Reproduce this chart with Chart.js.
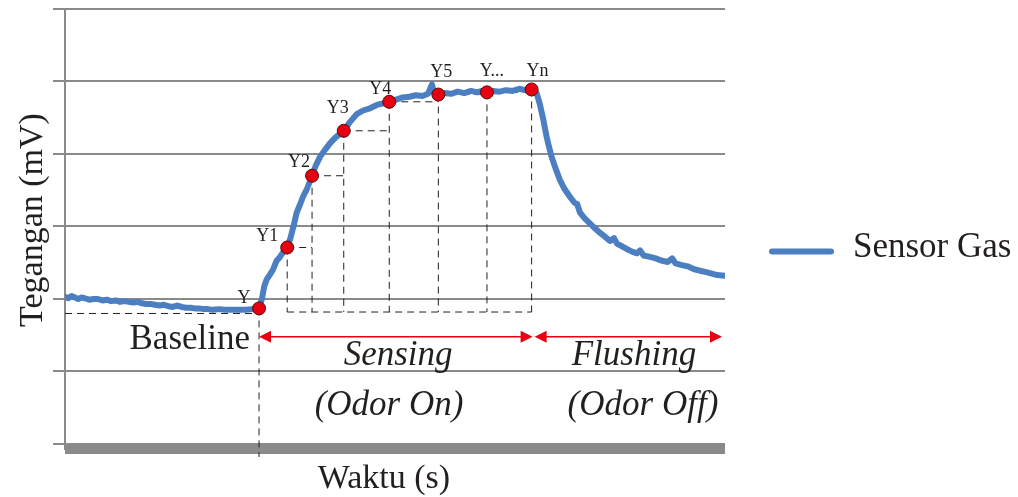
<!DOCTYPE html>
<html>
<head>
<meta charset="utf-8">
<title>Sensor Gas</title>
<script src="https://cdn.jsdelivr.net/npm/chart.js@4.4.1/dist/chart.umd.min.js"></script>
<style>
  html, body { margin: 0; padding: 0; background: #fff; }
  #wrap { position: relative; width: 1018px; height: 497px; }
</style>
</head>
<body>
<div id="wrap"><canvas id="chart"></canvas></div>
<script>
// Data - sensor response, time (s) vs voltage (mV, relative units)
const timeS = [
  0, 1.5, 3, 4.5, 6, 7.5, 9, 11, 13, 15, 17, 19, 21, 23, 25, 27, 29, 31, 33, 35,
  37, 39, 41, 43, 45, 47, 49, 51, 53, 55, 57, 59, 61, 63, 65, 67, 70, 73, 76, 79,
  82, 85, 88.2,
  89.5, 90.6, 91.7, 93.0, 94.5, 96.2, 97.5, 99.0, 101.0, 102.5, 104.0, 105.3, 106.8,
  108.3, 110.0, 112.3, 114.0, 115.9, 118.0, 120.5, 123.0, 126.7, 129.5, 132.6, 135.5,
  138.6, 142.0, 145.0, 147.4, 150.5, 153.5, 156.5, 159.5, 162.5, 165.0, 166.8, 167.8,
  169.7, 172.5, 175.5, 178.5, 181.5, 184.5, 187.5, 189.5, 191.8, 194.5, 197.5, 200.5,
  203.5, 206.5, 209.0, 212.1,
  214.4, 215.9, 217.5, 218.9, 220.0, 221.2, 223.0, 225.0, 227.0, 229.5, 231.5, 232.8,
  234.1, 236.0, 238.0, 240.0, 242.5, 245.0, 247.7, 249.5, 251.0, 253.0, 255.3, 258.0,
  260.0, 261.4, 263.0, 265.9, 268.5, 271.0, 274.0, 276.0, 277.5, 280.0, 283.0, 286.0,
  288.6, 291.5, 294.0, 296.5, 300.0
];
const sensorMv = [
  2.03, 2.01, 2.04, 2.02, 2.00, 2.02, 2.01, 1.99, 2.00, 2.00, 1.98, 1.99, 1.97, 1.98, 1.96, 1.97, 1.96, 1.95, 1.96, 1.94,
  1.93, 1.93, 1.92, 1.91, 1.92, 1.90, 1.89, 1.91, 1.89, 1.88, 1.88, 1.87, 1.87, 1.86, 1.86, 1.85, 1.86, 1.85, 1.85, 1.85,
  1.85, 1.86, 1.87,
  2.00, 2.18, 2.27, 2.33, 2.40, 2.53, 2.57, 2.64, 2.71, 2.84, 3.02, 3.19, 3.30,
  3.42, 3.52, 3.70, 3.84, 3.96, 4.05, 4.15, 4.23, 4.32, 4.44, 4.55, 4.60,
  4.63, 4.68, 4.70, 4.72, 4.75, 4.78, 4.79, 4.81, 4.80, 4.83, 4.96, 4.84,
  4.82, 4.84, 4.83, 4.86, 4.84, 4.87, 4.85, 4.87, 4.85, 4.87, 4.86, 4.88,
  4.87, 4.90, 4.88, 4.89,
  4.84, 4.68, 4.46, 4.24, 4.10, 3.96, 3.80, 3.64, 3.52, 3.41, 3.33, 3.31,
  3.19, 3.12, 3.06, 3.00, 2.93, 2.87, 2.80, 2.84, 2.76, 2.73, 2.69, 2.65,
  2.63, 2.67, 2.60, 2.58, 2.56, 2.53, 2.51, 2.56, 2.49, 2.47, 2.45, 2.41,
  2.39, 2.37, 2.35, 2.33, 2.32
];

// Sampled points Y ... Yn
const pointLabels = ['Y', 'Y1', 'Y2', 'Y3', 'Y4', 'Y5', 'Y...', 'Yn'];
const pointTime = [88.2, 101.0, 112.3, 126.7, 147.4, 169.7, 191.8, 212.1];
const pointMv = [1.87, 2.71, 3.70, 4.32, 4.72, 4.82, 4.85, 4.89];

// Gridline values (no tick labels shown)
const yTicks = [0, 1, 2, 3, 4, 5, 6];

// Guide levels (mV)
const floorMv = 1.82;
const baselineMv = 1.80;
const arrowMv = 1.48;
const dropMv = -0.18;

// Label offset from each point, px [dx, dy to baseline]
const labelOffsets = [[-15, -5], [-20, -7], [-13, -9], [-6, -18], [-9, -8], [3, -18], [5, -16], [6, -13]];

// Text notes placed on the time / voltage scales
const notes = [
  { text: 'Baseline', t: 84.1, v: 1.31, align: 'right', italic: false },
  { text: 'Sensing', t: 151.4, v: 1.09, align: 'center', italic: true },
  { text: 'Flushing', t: 258.6, v: 1.09, align: 'center', italic: true },
  { text: '(Odor On)', t: 147.3, v: 0.40, align: 'center', italic: true },
  { text: '(Odor Off)', t: 262.7, v: 0.40, align: 'center', italic: true }
];

const ink = '#231f20';
const red = '#e60012';
const grey = '#8a8a8a';
const blue = '#4b7fc2';
const serif = "'Liberation Serif', 'Times New Roman', serif";

function drawArrow(ctx, x1, x2, y) {
  const len = 12, half = 6;
  ctx.beginPath();
  ctx.moveTo(x1 + len - 1, y);
  ctx.lineTo(x2 - len + 1, y);
  ctx.stroke();
  ctx.beginPath();
  ctx.moveTo(x1, y);
  ctx.lineTo(x1 + len, y - half);
  ctx.lineTo(x1 + len, y + half);
  ctx.closePath();
  ctx.moveTo(x2, y);
  ctx.lineTo(x2 - len, y - half);
  ctx.lineTo(x2 - len, y + half);
  ctx.closePath();
  ctx.fill();
}

const guides = {
  id: 'guides',
  beforeDatasetsDraw(chart) {
    const { ctx, chartArea, scales: { x, y } } = chart;
    const px = pointTime.map(t => x.getPixelForValue(t));
    const py = pointMv.map(v => y.getPixelForValue(v));
    const floor = y.getPixelForValue(floorMv);
    const base = y.getPixelForValue(baselineMv);
    const last = px.length - 1;

    ctx.save();
    // thick time axis bar
    ctx.fillStyle = grey;
    ctx.fillRect(x.left, Math.round(chartArea.bottom) - 4, x.right - x.left, 9);

    ctx.strokeStyle = ink;
    ctx.lineWidth = 1;
    ctx.setLineDash([7, 5]);
    ctx.beginPath();
    ctx.moveTo(x.left, base);
    ctx.lineTo(px[0], base);
    ctx.moveTo(px[0], py[0]);
    ctx.lineTo(px[0], y.getPixelForValue(dropMv));
    for (let i = 1; i <= last; i++) {
      ctx.moveTo(px[i], py[i]);
      ctx.lineTo(px[i], floor);
      if (i < last) {
        ctx.moveTo(px[i], py[i]);
        ctx.lineTo(px[i + 1], py[i]);
      }
    }
    ctx.moveTo(px[1], floor);
    ctx.lineTo(px[last], floor);
    ctx.stroke();
    ctx.restore();
  },
  afterDraw(chart) {
    const { ctx, scales: { x, y } } = chart;
    const px = pointTime.map(t => x.getPixelForValue(t));
    const py = pointMv.map(v => y.getPixelForValue(v));
    const last = px.length - 1;

    ctx.save();
    ctx.fillStyle = ink;

    // point labels
    ctx.font = '18px ' + serif;
    ctx.textAlign = 'center';
    ctx.textBaseline = 'alphabetic';
    pointLabels.forEach((lab, i) => {
      ctx.fillText(lab, px[i] + labelOffsets[i][0], py[i] + labelOffsets[i][1]);
    });

    // phase arrows
    const ay = y.getPixelForValue(arrowMv);
    ctx.strokeStyle = red;
    ctx.fillStyle = red;
    ctx.lineWidth = 1.5;
    drawArrow(ctx, px[0], px[last] + 1, ay);
    drawArrow(ctx, px[last] + 3, x.right - 3, ay);

    // notes
    ctx.fillStyle = ink;
    notes.forEach(n => {
      ctx.font = (n.italic ? 'italic ' : '') + '35px ' + serif;
      ctx.textAlign = n.align;
      ctx.fillText(n.text, x.getPixelForValue(n.t), y.getPixelForValue(n.v));
    });

    // axis titles
    ctx.font = '34px ' + serif;
    ctx.textAlign = 'center';
    ctx.fillText('Waktu (s)', 384, 488);
    ctx.save();
    ctx.translate(42, 220);
    ctx.rotate(-Math.PI / 2);
    ctx.fillText('Tegangan (mV)', 0, 0);
    ctx.restore();

    // legend
    const ds = chart.data.datasets[1];
    ctx.strokeStyle = ds.borderColor;
    ctx.lineWidth = 6;
    ctx.lineCap = 'round';
    ctx.beginPath();
    ctx.moveTo(772, 251.5);
    ctx.lineTo(831, 251.5);
    ctx.stroke();
    ctx.font = '35px ' + serif;
    ctx.textAlign = 'left';
    ctx.fillText(ds.label, 853, 257);
    ctx.restore();
  }
};

const chart = new Chart(document.getElementById('chart'), {
  type: 'line',
  data: {
    datasets: [
      {
        label: 'Titik',
        data: pointTime.map((t, i) => ({ x: t, y: pointMv[i] })),
        showLine: false,
        pointRadius: 6.5,
        pointBackgroundColor: red,
        pointBorderColor: '#5a0a0a',
        pointBorderWidth: 1,
        order: 0
      },
      {
        label: 'Sensor Gas',
        data: timeS.map((t, i) => ({ x: t, y: sensorMv[i] })),
        borderColor: blue,
        borderWidth: 6,
        borderJoinStyle: 'round',
        borderCapStyle: 'round',
        pointRadius: 0,
        tension: 0,
        fill: false,
        order: 1
      }
    ]
  },
  options: {
    responsive: true,
    maintainAspectRatio: false,
    animation: false,
    layout: { padding: { top: 9, right: 293, bottom: 0, left: 0 } },
    plugins: {
      legend: { display: false },
      tooltip: { enabled: false }
    },
    scales: {
      x: {
        type: 'linear',
        min: 0,
        max: 300,
        grid: { display: false },
        ticks: { display: false },
        border: { display: false },
        afterFit: s => { s.height = 47.6; }
      },
      y: {
        type: 'linear',
        min: -0.075,
        max: 6,
        afterBuildTicks: s => { s.ticks = yTicks.map(v => ({ value: v })); },
        grid: { color: grey, lineWidth: 2, drawTicks: true, tickLength: 12 },
        ticks: { display: false },
        border: { display: true, color: grey, width: 2 },
        afterFit: s => { s.width = 65; }
      }
    }
  },
  plugins: [guides]
});
</script>
</body>
</html>
